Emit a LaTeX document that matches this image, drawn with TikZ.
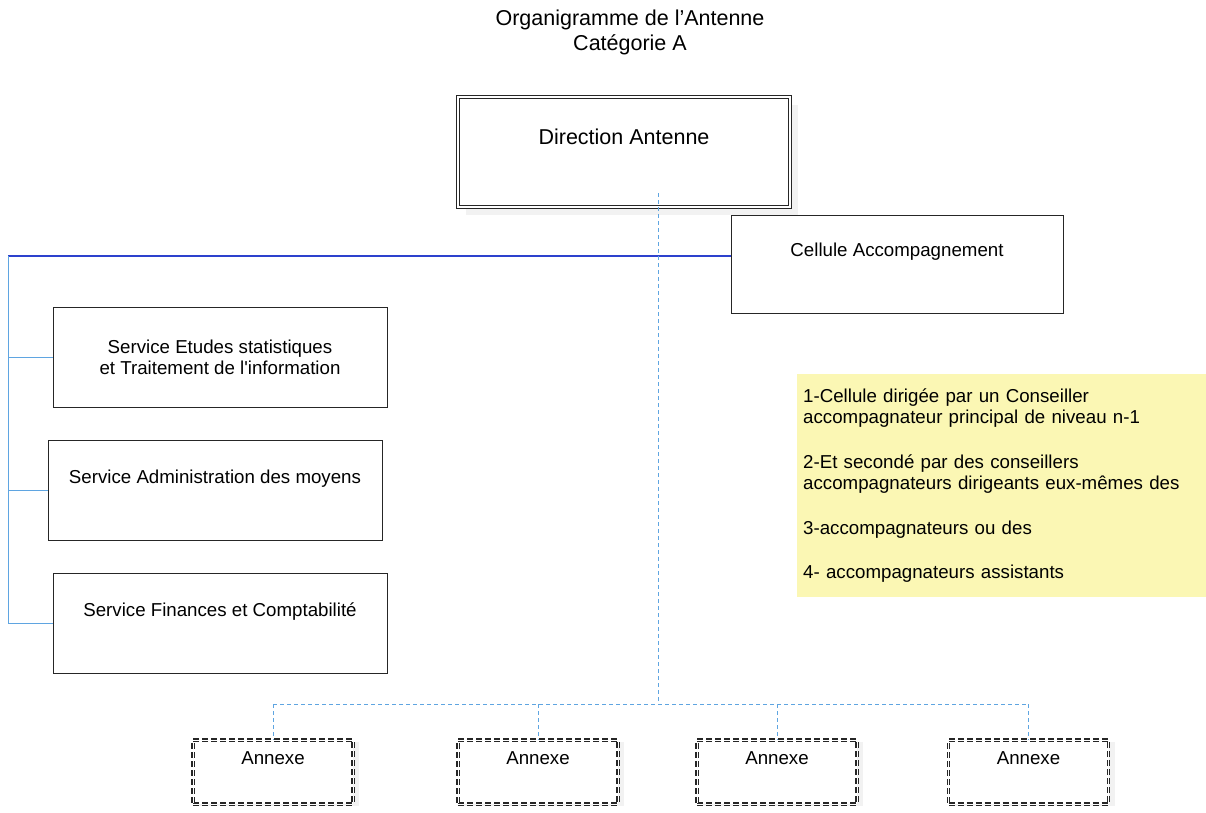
\documentclass[tikz,border=0pt]{standalone}
\usepackage{fontspec}
\setmainfont{Liberation Sans}
\usepackage{tikz}
\usetikzlibrary{shapes,shadows,positioning}
\definecolor{busBlue}{RGB}{45,65,205}
\definecolor{linkBlue}{RGB}{95,165,225}
\definecolor{noteYellow}{RGB}{251,247,180}
\newcommand{\smallFont}{\fontsize{18.7}{21.5}\selectfont}
\newcommand{\bigFont}{\fontsize{21.5}{25}\selectfont}
\tikzstyle{serviceBlock} = [draw=black!85,rectangle,line width=0.9pt,fill=white,minimum width=334pt,minimum height=100pt,align=center,font=\smallFont]
\tikzstyle{topText} = [text depth=28pt]
\tikzstyle{headBlock} = [draw=black!85,rectangle,line width=0.9pt,double=white,double distance=1.3pt,fill=white,minimum width=332pt,minimum height=110pt,text depth=31pt,font=\bigFont,drop shadow={shadow xshift=8pt,shadow yshift=-8pt,fill=black!10}]
\tikzstyle{annexBlock} = [draw=black!85,rectangle,line width=1.1pt,dash pattern=on 6pt off 3pt,double=white,double distance=1pt,fill=white,minimum width=160pt,minimum height=64pt,text depth=28pt,font=\smallFont,drop shadow={shadow xshift=6pt,shadow yshift=-2pt,fill=black!10}]
\tikzstyle{noteBlock} = [rectangle,fill=noteYellow,text width=397pt,inner xsep=6pt,inner ysep=0pt,minimum height=223pt,align=left,font=\smallFont]
\tikzstyle{busLine} = [draw=busBlue,line width=1.2pt]
\tikzstyle{linkLine} = [draw=linkBlue,line width=0.7pt]
\tikzstyle{dashLine} = [draw=linkBlue,line width=0.7pt,dash pattern=on 4pt off 3pt]

\begin{document}
\begin{tikzpicture}[x=1pt,y=-1pt]
		\useasboundingbox (0,0) rectangle (1206,812);
		\node[font=\bigFont,align=center](title) at (630,32){Organigramme de l’Antenne\\Catégorie A};
		\node[headBlock](direction) at (624,152){Direction Antenne};
		\node[serviceBlock,topText,minimum width=332pt,minimum height=98pt](cellule) at (897,264){Cellule Accompagnement};
		\node[serviceBlock](etudes) at (220,357.5){Service Etudes statistiques\\et Traitement de l\textquotesingle information};
		\node[serviceBlock,topText,below=32pt of etudes,xshift=-5pt](admin){Service Administration des moyens};
		\node[serviceBlock,topText,below=32.5pt of admin,xshift=5pt](finances){Service Finances et Comptabilité};
		\node[noteBlock,anchor=north west](notes) at (797,374){1-Cellule dirigée par un Conseiller\\accompagnateur principal de niveau n-1\\[23pt]2-Et secondé par des conseillers\\accompagnateurs dirigeants eux-mêmes des\\[23pt]3-accompagnateurs ou des\\[23pt]4- accompagnateurs assistants};
		\node[annexBlock](annexA) at (273,772){Annexe};
		\node[annexBlock](annexB) at (538,772){Annexe};
		\node[annexBlock](annexC) at (777,772){Annexe};
		\node[annexBlock](annexD) at (1028.5,772){Annexe};
		%bus points
		\coordinate(leftBus) at (8,256);
		\coordinate(dirFoot) at (658,193);
		\coordinate(annexBus) at (658,704);
		%lines
		\path[busLine](leftBus)--(leftBus -| cellule.west);
		\path[linkLine](leftBus)--(leftBus |- finances.west)--(finances.west);
		\path[linkLine](leftBus |- etudes.west)--(etudes.west);
		\path[linkLine](leftBus |- admin.west)--(admin.west);
		\path[dashLine](dirFoot)--(annexBus);
		\path[dashLine](annexBus -| annexA.north)--(annexBus -| annexD.north);
		\path[dashLine](annexBus -| annexA.north)--(annexA.north);
		\path[dashLine](annexBus -| annexB.north)--(annexB.north);
		\path[dashLine](annexBus -| annexC.north)--(annexC.north);
		\path[dashLine](annexBus -| annexD.north)--(annexD.north);
	\end{tikzpicture}
\end{document}
